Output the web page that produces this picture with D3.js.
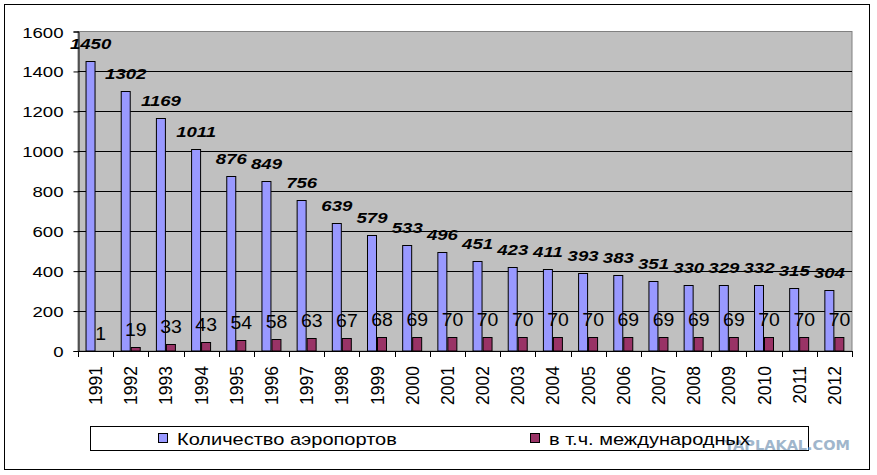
<!DOCTYPE html>
<html>
<head>
<meta charset="utf-8">
<script src="https://cdn.jsdelivr.net/npm/d3@7"></script>
<style>
  body { margin: 0; background: #fff; }
  text { font-family: Arial, "Liberation Sans", sans-serif; }
</style>
</head>
<body>
<div id="chart"></div>
<script>
// chart data
var years = ["1991","1992","1993","1994","1995","1996","1997","1998","1999","2000","2001",
             "2002","2003","2004","2005","2006","2007","2008","2009","2010","2011","2012"];
var airports = [1450,1302,1169,1011,876,849,756,639,579,533,496,451,423,411,393,383,351,330,329,332,315,304];
var international = [1,19,33,43,54,58,63,67,68,69,70,70,70,70,70,69,69,69,69,70,70,70];
var yTicks = [0,200,400,600,800,1000,1200,1400,1600];
var seriesNames = ["Количество аэропортов", "в т.ч. международных"];
var seriesColors = ["#9999FF", "#993366"];

var svgWidth = 877;
var svgHeight = 475;

// the original renders its text wider than Arial
var stretch = 1.2;

// plot area position
var plot = { left: 78, right: 852, top: 31.5, bottom: 351 };

var svg = d3.select("#chart")
  .append("svg")
  .attr("width", svgWidth)
  .attr("height", svgHeight);

// outer chart border
svg.append("rect")
  .attr("x", 4.5).attr("y", 4.5)
  .attr("width", 865).attr("height", 465)
  .attr("fill", "#fff")
  .attr("stroke", "#000");

// plot background
svg.append("rect")
  .attr("x", plot.left).attr("y", plot.top)
  .attr("width", plot.right - plot.left)
  .attr("height", plot.bottom - plot.top)
  .attr("fill", "#C0C0C0")
  .attr("stroke", "#808080");

// scales (Excel gap width 150%)
var xScale = d3.scaleBand()
  .domain(years)
  .range([plot.left, plot.right])
  .paddingInner(1.5 / 3.5)
  .paddingOuter(0.75 / 3.5);

var xSub = d3.scaleBand()
  .domain([0, 1])
  .range([0, xScale.bandwidth()]);

var yScale = d3.scaleLinear()
  .domain([0, 1600])
  .range([plot.bottom, plot.top]);

// gridlines
svg.append("g").selectAll("line")
  .data(yTicks.slice(1, -1))
  .enter()
  .append("line")
  .attr("x1", plot.left).attr("x2", plot.right)
  .attr("y1", d => Math.round(yScale(d)) + 0.5)
  .attr("y2", d => Math.round(yScale(d)) + 0.5)
  .attr("stroke", "#000");

// bars
var rows = years.map(function (y, i) {
  return { year: y, values: [airports[i], international[i]] };
});

var groups = svg.append("g").selectAll("g")
  .data(rows)
  .enter()
  .append("g")
  .attr("transform", d => "translate(" + xScale(d.year) + ",0)");

groups.selectAll("rect")
  .data(d => d.values.map((v, k) => ({ k: k, v: v })))
  .enter()
  .append("rect")
  .attr("x", d => Math.round(xSub(d.k)) + 0.5)
  .attr("y", d => Math.round(yScale(d.v)) + 0.5)
  .attr("width", Math.round(xSub.bandwidth()) - 1)
  .attr("height", d => Math.max(0, plot.bottom - Math.round(yScale(d.v)) - 0.5))
  .attr("fill", d => seriesColors[d.k])
  .attr("stroke", "#000")
  .attr("stroke-width", 1);

// value labels: airports (bold italic)
groups.append("text")
  .attr("transform", d => "translate(" + (xSub(0) + xSub.bandwidth() / 2) + "," + (yScale(d.values[0]) - 12) + ") scale(" + stretch + ",1)")
  .attr("text-anchor", "middle")
  .style("font-size", "15.5px")
  .style("font-weight", "bold")
  .style("font-style", "italic")
  .text(d => d.values[0]);

// value labels: international
groups.append("text")
  .attr("transform", d => "translate(" + (xSub(1) + xSub.bandwidth() / 2) + "," + (yScale(d.values[1]) - 11) + ") scale(1.08,1)")
  .attr("text-anchor", "middle")
  .style("font-size", "18px")
  .text(d => d.values[1]);

// axes
var leftAxis = d3.axisLeft(yScale)
  .tickValues(yTicks)
  .tickSize(5)
  .tickPadding(0)
  .tickFormat(d3.format("d"));

var yAxisG = svg.append("g")
  .attr("transform", "translate(" + (plot.left + 0.5) + ",0)")
  .call(leftAxis);
yAxisG.select(".domain").attr("stroke", "#000");
yAxisG.selectAll("text")
  .attr("x", null)
  .attr("dy", null)
  .attr("transform", "translate(-15,5.5) scale(" + stretch + ",1)")
  .style("font-size", "15.5px")
  .attr("fill", "#000")
  .attr("font-family", null);

// x axis: base line plus ticks at category boundaries
var step = xScale.step();
var xAxisG = svg.append("g");
xAxisG.append("line")
  .attr("x1", plot.left).attr("x2", plot.right + 0.5)
  .attr("y1", plot.bottom + 0.5).attr("y2", plot.bottom + 0.5)
  .attr("stroke", "#000");
xAxisG.selectAll(".tick")
  .data(d3.range(years.length + 1))
  .enter()
  .append("line")
  .attr("x1", i => Math.round(plot.left + i * step) + 0.5)
  .attr("x2", i => Math.round(plot.left + i * step) + 0.5)
  .attr("y1", plot.bottom)
  .attr("y2", plot.bottom + 6)
  .attr("stroke", "#000");

xAxisG.selectAll("text")
  .data(years)
  .enter()
  .append("text")
  .attr("transform", d => "translate(" + (xScale(d) + xScale.bandwidth() / 2 + 6.5) + "," + (plot.bottom + 15) + ") rotate(-90)")
  .attr("text-anchor", "end")
  .style("font-size", "17.5px")
  .text(d => d);

// legend
var legend = svg.append("g");
legend.append("rect")
  .attr("x", 90.5).attr("y", 426.5)
  .attr("width", 718).attr("height", 24)
  .attr("fill", "#fff")
  .attr("stroke", "#000");

// watermark (sits under the legend text)
svg.append("text")
  .attr("x", 850)
  .attr("y", 449.5)
  .attr("text-anchor", "end")
  .style("font-family", "'DejaVu Sans', sans-serif")
  .style("font-size", "14.5px")
  .style("font-weight", "bold")
  .style("fill", "#a0b6cc")
  .text("YAPLAKAL.COM");

var legendX = [158, 530];
var legendText = svg.append("g");
seriesNames.forEach(function (name, k) {
  legendText.append("rect")
    .attr("x", legendX[k] + 0.5).attr("y", 433.5)
    .attr("width", 9).attr("height", 9)
    .attr("fill", seriesColors[k])
    .attr("stroke", "#000");
  legendText.append("text")
    .attr("transform", "translate(" + (legendX[k] + 19) + ",444.5) scale(1.25,1)")
    .style("font-size", "16px")
    .text(name);
});
</script>
</body>
</html>
